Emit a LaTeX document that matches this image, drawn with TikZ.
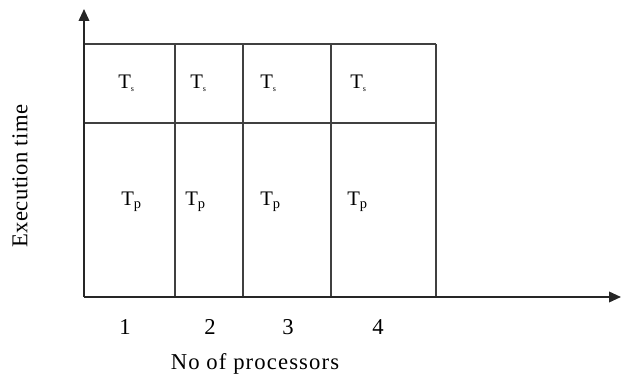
\documentclass[tikz,border=0pt]{standalone}
\usepackage{fontspec}
\setmainfont{Liberation Serif}
\usetikzlibrary{arrows.meta}
\begin{document}
\begin{tikzpicture}[x=0.75pt,y=-0.75pt,
  gridline/.style={line width=1.2pt,draw=black!75},
  axisline/.style={line width=1.2pt,draw=black!85,-{Triangle[length=9pt,width=8pt]}},
  tlabel/.style={anchor=west,inner sep=0pt,font=\fontsize{15.5}{17}\selectfont},
  numlabel/.style={inner sep=0pt,font=\fontsize{17}{19}\selectfont},
  axlabel/.style={inner sep=0pt,font=\fontsize{17}{19}\selectfont}]
\useasboundingbox (0,0) rectangle (622,378);
% coordinates
\coordinate (O) at (84,297);
\coordinate (ytip) at (84,9);
\coordinate (xtip) at (621,297);
\coordinate (tl) at (84,44);
\coordinate (tr) at (436,44);
\coordinate (ml) at (84,123);
\coordinate (mr) at (436,123);
\foreach \n/\x in {a/175,b/243,c/331,d/436}{
  \coordinate (\n top) at (\x,44);
  \coordinate (\n bot) at (\x,297);
}
% grid
\draw[gridline] (tl) -- (tr);
\draw[gridline] (ml) -- (mr);
\foreach \n in {a,b,c,d}{\draw[gridline] (\n top) -- (\n bot);}
% axes
\draw[axisline] (O) -- (ytip);
\draw[axisline] (O) -- (xtip);
% labels
\node[tlabel] (s1) at (118,83) {T\textsubscript{\fontsize{6}{6}\selectfont s}};
\node[tlabel] (s2) at (190,83) {T\textsubscript{\fontsize{6}{6}\selectfont s}};
\node[tlabel] (s3) at (260,83) {T\textsubscript{\fontsize{6}{6}\selectfont s}};
\node[tlabel] (s4) at (350,83) {T\textsubscript{\fontsize{6}{6}\selectfont s}};
\node[tlabel] (p1) at (121,202) {T\textsubscript{p}};
\node[tlabel] (p2) at (185,202) {T\textsubscript{p}};
\node[tlabel] (p3) at (260,202) {T\textsubscript{p}};
\node[tlabel] (p4) at (347,202) {T\textsubscript{p}};
\node[numlabel] (n1) at (125,327) {1};
\node[numlabel] (n2) at (210,327) {2};
\node[numlabel] (n3) at (288,327) {3};
\node[numlabel] (n4) at (378,327) {4};
\node[axlabel] (xl) at (255,364) {\addfontfeature{LetterSpace=5}No of processors};
\node[axlabel,rotate=90] (yl) at (20,176) {\addfontfeature{LetterSpace=2}Execution time};
\end{tikzpicture}
\end{document}
